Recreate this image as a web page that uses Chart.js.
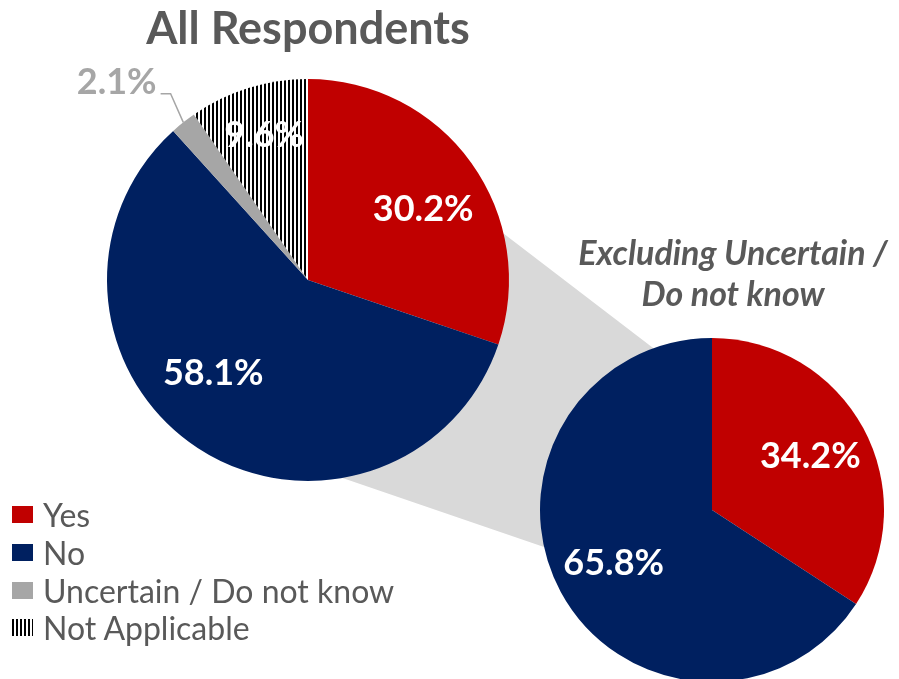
<!DOCTYPE html>
<html>
<head>
<meta charset="utf-8">
<script src="https://cdn.jsdelivr.net/npm/chart.js@4.4.1/dist/chart.umd.min.js"></script>
<style>
html, body { margin: 0; padding: 0; background: #fff; overflow: hidden; width: 899px; height: 679px; }
#wrap { position: relative; width: 899px; height: 679px; }
canvas { position: absolute; left: 0; top: 0; }
#legend { position: absolute; left: 12px; top: 496px; z-index: 3; font-family: Lato, sans-serif; font-size: 32px; color: #595959; }
.item { display: flex; align-items: center; height: 37.7px; white-space: nowrap; }
.box { width: 21px; height: 17px; margin-right: 10px; flex: none; }
</style>
</head>
<body>
<div id="wrap">
  <canvas id="allChart" width="899" height="679"></canvas>
  <canvas id="exclChart" width="899" height="700"></canvas>
  <div id="legend"></div>
</div>
<script>
// chart values
const allLabels = ['Yes', 'No', 'Uncertain / Do not know', 'Not Applicable'];
const allValues = [30.2, 58.1, 2.1, 9.6];
const exclLabels = ['Yes', 'No'];
const exclValues = [34.2, 65.8];

const red = '#C00000', navy = '#002060', grey = '#A6A6A6', bandGrey = '#D9D9D9', txt = '#595959';
const pctText = v => v.toFixed(1) + '%';

// vertical black / white stripes for "Not Applicable"
function stripes() {
    let c = document.createElement('canvas');
    c.width = 4; c.height = 4;
    let g = c.getContext('2d');
    g.fillStyle = '#fff'; g.fillRect(0, 0, 4, 4);
    g.fillStyle = '#000'; g.fillRect(0, 0, 2, 4);
    return g.createPattern(c, 'repeat');
}

// percentage labels on the slices
const sliceLabels = {
    id: 'sliceLabels',
    afterDatasetsDraw(chart, args, opts) {
        const ctx = chart.ctx;
        const meta = chart.getDatasetMeta(0);
        const values = chart.data.datasets[0].data;
        ctx.save();
        ctx.font = 'bold 36px Lato';
        ctx.textBaseline = 'middle';
        meta.data.forEach((arc, i) => {
            const mid = (arc.startAngle + arc.endAngle) / 2;
            const nudge = (opts.nudge && opts.nudge[i]) || [0, 0];
            const text = pctText(values[i]);
            if (opts.outside && opts.outside[i]) {
                const r = arc.outerRadius;
                const x0 = arc.x + Math.cos(mid) * r, y0 = arc.y + Math.sin(mid) * r;
                const x1 = arc.x + Math.cos(mid) * r * 1.15 + nudge[0];
                const y1 = arc.y + Math.sin(mid) * r * 1.15 + nudge[1];
                ctx.strokeStyle = grey;
                ctx.lineWidth = 1.5;
                ctx.beginPath();
                ctx.moveTo(x0, y0);
                ctx.lineTo(x1, y1);
                ctx.lineTo(x1 - 10, y1);
                ctx.stroke();
                ctx.fillStyle = grey;
                ctx.textAlign = 'right';
                ctx.fillText(text, x1 - 14, y1 - 11.5);
            } else {
                const f = opts.factor || 0.65;
                ctx.fillStyle = '#fff';
                ctx.textAlign = 'center';
                ctx.fillText(text,
                    arc.x + Math.cos(mid) * arc.outerRadius * f + nudge[0],
                    arc.y + Math.sin(mid) * arc.outerRadius * f + nudge[1]);
            }
        });
        ctx.restore();
    }
};

// grey band joining the two pies, drawn behind the big one
const connector = {
    id: 'connector',
    beforeDatasetsDraw(chart, args, opts) {
        if (!window.exclChart) return;
        const a = chart.getDatasetMeta(0).data[0];
        const b = exclChart.getDatasetMeta(0).data[0];
        const pt = (arc, deg) => [arc.x + arc.outerRadius * Math.cos(deg * Math.PI / 180),
                                  arc.y + arc.outerRadius * Math.sin(deg * Math.PI / 180)];
        const pts = [pt(a, opts.from[0]), pt(b, opts.to[0]), pt(b, opts.to[1]), pt(a, opts.from[1])];
        const ctx = chart.ctx;
        ctx.save();
        ctx.fillStyle = bandGrey;
        ctx.beginPath();
        ctx.moveTo(pts[0][0], pts[0][1]);
        pts.slice(1).forEach(p => ctx.lineTo(p[0], p[1]));
        ctx.closePath();
        ctx.fill();
        ctx.restore();
    }
};

// two line caption over the small pie
const caption = {
    id: 'caption',
    afterDraw(chart, args, opts) {
        const ctx = chart.ctx;
        const arc = chart.getDatasetMeta(0).data[0];
        ctx.save();
        ctx.font = 'italic bold 34px Lato';
        ctx.fillStyle = txt;
        ctx.textAlign = 'center';
        ctx.textBaseline = 'middle';
        opts.lines.forEach((line, i) => {
            ctx.fillText(line, arc.x + 21, chart.chartArea.top - 84 + i * 41);
        });
        ctx.restore();
    }
};

const baseOptions = {
    responsive: false,
    animation: false,
    events: [],
    plugins: { legend: { display: false }, tooltip: { enabled: false } }
};

window.exclChart = new Chart(document.getElementById('exclChart'), {
    type: 'pie',
    data: {
        labels: exclLabels,
        datasets: [{ data: exclValues, backgroundColor: [red, navy], borderWidth: 0 }]
    },
    options: {
        ...baseOptions,
        layout: { padding: { left: 540, right: 15, top: 338, bottom: 18 } },
        plugins: {
            ...baseOptions.plugins,
            sliceLabels: { factor: 0.65 },
            caption: { lines: ['Excluding Uncertain /', 'Do not know'] }
        }
    },
    plugins: [sliceLabels, caption]
});

const allChart = new Chart(document.getElementById('allChart'), {
    type: 'pie',
    data: {
        labels: allLabels,
        datasets: [{ data: allValues, backgroundColor: [red, navy, grey, stripes()], borderWidth: 0 }]
    },
    options: {
        ...baseOptions,
        layout: { padding: { left: 107, right: 390, top: 0, bottom: 198 } },
        plugins: {
            ...baseOptions.plugins,
            title: {
                display: true,
                text: 'All Respondents',
                color: txt,
                font: { family: 'Lato', size: 45, weight: 'bold', lineHeight: 1.2 },
                padding: { top: 2, bottom: 23 }
            },
            sliceLabels: { factor: 0.65, nudge: [[9, 6], [-23, -16], [6, -5], [-5, -20]], outside: [false, false, true, false] },
            connector: { from: [-13.4, 80.1], to: [-109.9, 167.6] }
        }
    },
    plugins: [connector, sliceLabels]
});

// legend
const legendColors = [red, navy, grey, 'repeating-linear-gradient(90deg, #000 0 2px, #fff 2px 4px)'];
document.getElementById('legend').innerHTML = allLabels.map((l, i) =>
    '<div class="item"><span class="box" style="background:' + legendColors[i] + '"></span>' + l + '</div>'
).join('');
</script>
</body>
</html>
